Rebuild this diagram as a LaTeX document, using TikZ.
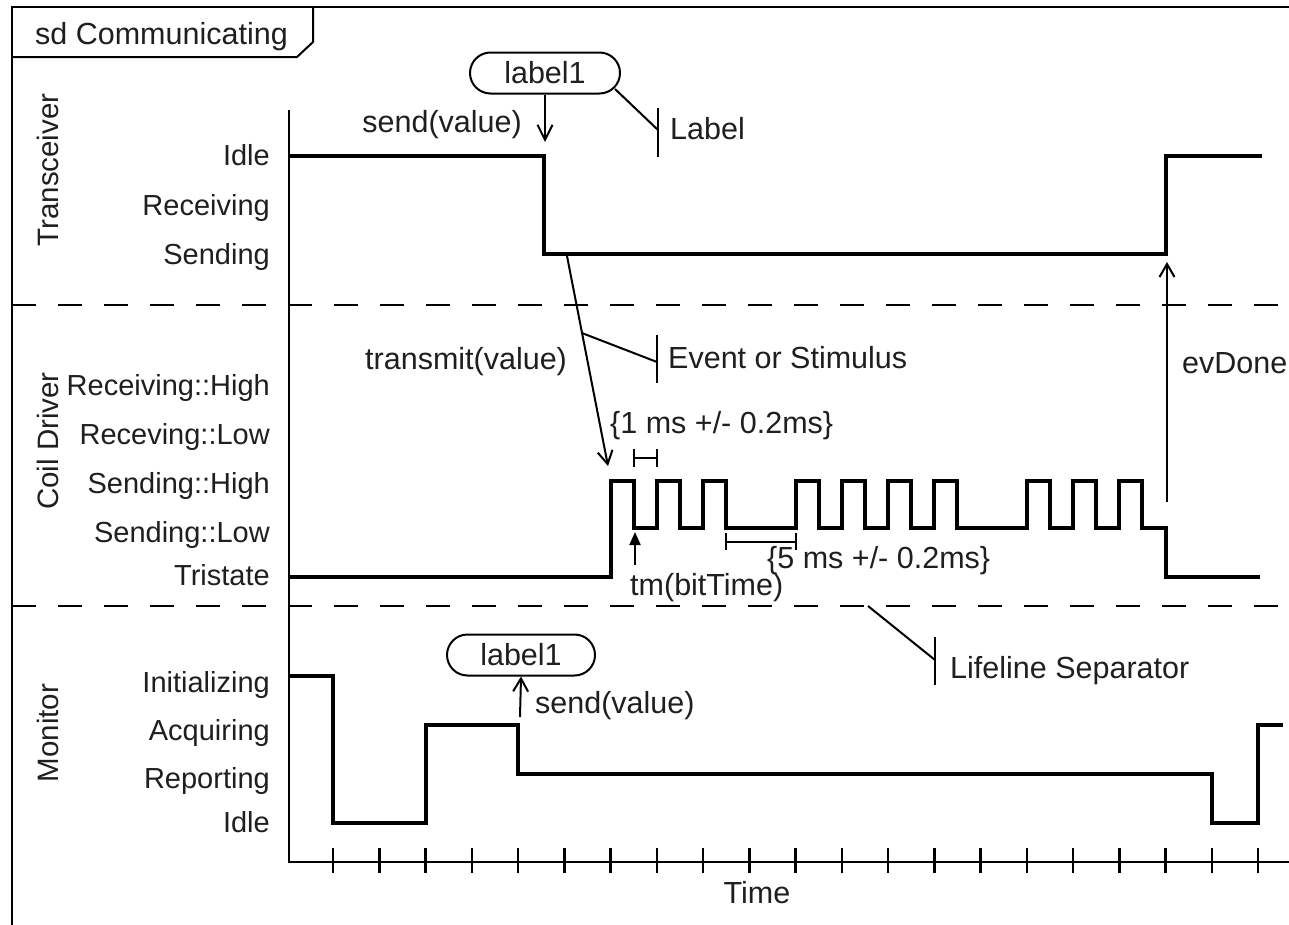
\documentclass[tikz,border=0pt]{standalone}
\usepackage{fontspec}
\setmainfont{Liberation Sans}
\usetikzlibrary{arrows.meta,shapes.misc,calc}
\newcommand\Tk[1]{333+46.25*#1}
\begin{document}
\begin{tikzpicture}[x=1pt,y=-1pt,
 every node/.style={font=\fontsize{30.5}{36}\selectfont, inner sep=0pt, text=black!88},
 frameln/.style={line width=2pt},
 wave/.style={line width=4pt, line join=miter},
 notel/.style={line width=2pt},
 sep/.style={line width=2.5pt, dash pattern=on 24pt off 22pt},
 msg/.style={line width=2pt, -{Straight Barb[length=13pt,width=15pt]}},
 pill/.style={draw, line width=2pt, rounded rectangle, minimum width=150pt, minimum height=41pt},
 statelbl/.style={anchor=base east, font=\fontsize{29}{34}\selectfont},
 lifelbl/.style={rotate=90, anchor=base, font=\fontsize{29.5}{34}\selectfont},
]
\useasboundingbox (0,0) rectangle (1289,924);
\clip (0,0) rectangle (1289,924);
\fill[white] (0,0) rectangle (1289,924);

% frame
\draw[frameln] (12,940) -- (12,7) -- (1300,7);
\draw[frameln] (12,57) -- (297,57) -- (313,42) -- (313,7);
\node[anchor=base west] (title) at (35,44) {sd Communicating};

% separators
\draw[sep] (12,305) -- (1300,305);
\draw[sep] (12,606) -- (1300,606);

% axis
\draw[line width=2.5pt] (289,110) -- (289,862) -- (1300,862);
\foreach \k in {0,...,20} \draw[line width=2.5pt] (\Tk{\k},848) -- (\Tk{\k},873);
\node[anchor=base] (time) at (757,903) {Time};

% lifeline names
\node[lifelbl] (ltr) at (58,170) {Transceiver};
\node[lifelbl] (lcd) at (58,441) {Coil Driver};
\node[lifelbl] (lmo) at (58,733) {Monitor};

% state labels
\node[statelbl] (s1) at (270,165) {Idle};
\node[statelbl] (s2) at (270,215) {Receiving};
\node[statelbl] (s3) at (270,264) {Sending};
\node[statelbl] (c1) at (270,395) {Receiving::High};
\node[statelbl] (c2) at (270,444) {Receving::Low};
\node[statelbl] (c3) at (270,493) {Sending::High};
\node[statelbl] (c4) at (270,542) {Sending::Low};
\node[statelbl] (c5) at (270,585) {Tristate};
\node[statelbl] (m1) at (270,692) {Initializing};
\node[statelbl] (m2) at (270,740) {Acquiring};
\node[statelbl] (m3) at (270,788) {Reporting};
\node[statelbl] (m4) at (270,832) {Idle};

% waveforms
\draw[wave] (289,156) -- (544,156) -- (544,254) -- (\Tk{18},254) -- (\Tk{18},156) -- (1262,156);
\draw[wave] (289,577) -- (\Tk{6},577) -- (\Tk{6},481)
  -- (\Tk{6.5},481) -- (\Tk{6.5},528) -- (\Tk{7},528) -- (\Tk{7},481)
  -- (\Tk{7.5},481) -- (\Tk{7.5},528) -- (\Tk{8},528) -- (\Tk{8},481)
  -- (\Tk{8.5},481) -- (\Tk{8.5},528) -- (\Tk{10},528) -- (\Tk{10},481)
  -- (\Tk{10.5},481) -- (\Tk{10.5},528) -- (\Tk{11},528) -- (\Tk{11},481)
  -- (\Tk{11.5},481) -- (\Tk{11.5},528) -- (\Tk{12},528) -- (\Tk{12},481)
  -- (\Tk{12.5},481) -- (\Tk{12.5},528) -- (\Tk{13},528) -- (\Tk{13},481)
  -- (\Tk{13.5},481) -- (\Tk{13.5},528) -- (\Tk{15},528) -- (\Tk{15},481)
  -- (\Tk{15.5},481) -- (\Tk{15.5},528) -- (\Tk{16},528) -- (\Tk{16},481)
  -- (\Tk{16.5},481) -- (\Tk{16.5},528) -- (\Tk{17},528) -- (\Tk{17},481)
  -- (\Tk{17.5},481) -- (\Tk{17.5},528) -- (\Tk{18},528) -- (\Tk{18},577) -- (1260,577);
\draw[wave] (289,676) -- (\Tk{0},676) -- (\Tk{0},823) -- (\Tk{2},823) -- (\Tk{2},725)
  -- (\Tk{4},725) -- (\Tk{4},774) -- (\Tk{19},774) -- (\Tk{19},823) -- (\Tk{20},823)
  -- (\Tk{20},725) -- (1283,725);

% top label and send message
\node[pill] (lab1) at (545,73) {label1};
\coordinate (sendtip) at (545,142);
\draw[line width=2pt, -{Straight Barb[length=15pt,width=15pt]}] (lab1.south) -- (sendtip);
\node[anchor=base east] (send1) at (522,132) {send(value)};
% Label note
\node[anchor=base west] (labnote) at (670,139) {Label};
\coordinate (labbar) at (658,130);
\coordinate (labp) at (615,89);
\draw[notel] (labp) -- (labbar);
\draw[notel] (658,108) -- (658,157);

% transmit message
\coordinate (trs) at (567,256);
\coordinate (trt) at (608,466);
\draw[msg] (trs) -- (trt);
\node[anchor=base west] (trm) at (365,369) {transmit(value)};
% Event note
\coordinate (evp) at ($(trs)!0.367!(trt)$);
\node[anchor=base west] (evnote) at (668,368) {Event or Stimulus};
\coordinate (evbar) at (657,362);
\draw[notel] (evp) -- (evbar);
\draw[notel] (657,335) -- (657,383);

% 1 ms constraint
\node[anchor=base west] (c1ms) at (610,433) {\{1 ms +/- 0.2ms\}};
\draw[notel] (\Tk{6.5},449) -- (\Tk{6.5},467);
\draw[notel] (\Tk{7},449) -- (\Tk{7},467);
\draw[notel] (\Tk{6.5},458) -- (\Tk{7},458);

% 5 ms constraint
\node[anchor=base west] (c5ms) at (767,568) {\{5 ms +/- 0.2ms\}};
\draw[notel] (\Tk{8.5},533) -- (\Tk{8.5},550);
\draw[notel] (\Tk{10},533) -- (\Tk{10},550);
\draw[notel] (\Tk{8.5},542) -- (\Tk{10},542);

% tm(bitTime)
\coordinate (tmb) at (635,565);
\coordinate (tmt) at (635,532);
\draw[line width=2pt, -{Triangle[length=13pt,width=11pt]}] (tmb) -- (tmt);
\node[anchor=base west] (tmlbl) at (630,595) {tm(bitTime)};

% evDone
\coordinate (evdb) at (1167,502);
\coordinate (evdt) at (1167,262);
\draw[msg] (evdb) -- (evdt);
\node[anchor=base west] (evd) at (1182,373) {evDone};

% Lifeline separator note
\coordinate (lsp) at (868,606);
\coordinate (lsbar) at (935,660);
\draw[notel] (lsp) -- (lsbar);
\draw[notel] (935,637) -- (935,685);
\node[anchor=base west] (lsnote) at (950,678) {Lifeline Separator};

% monitor label and send
\node[pill, minimum width=148pt] (lab2) at (521,655) {label1};
\coordinate (msb) at (520,717);
\draw[msg] (msb) -- (lab2.south);
\node[anchor=base west] (send2) at (535,713) {send(value)};
\end{tikzpicture}
\end{document}
